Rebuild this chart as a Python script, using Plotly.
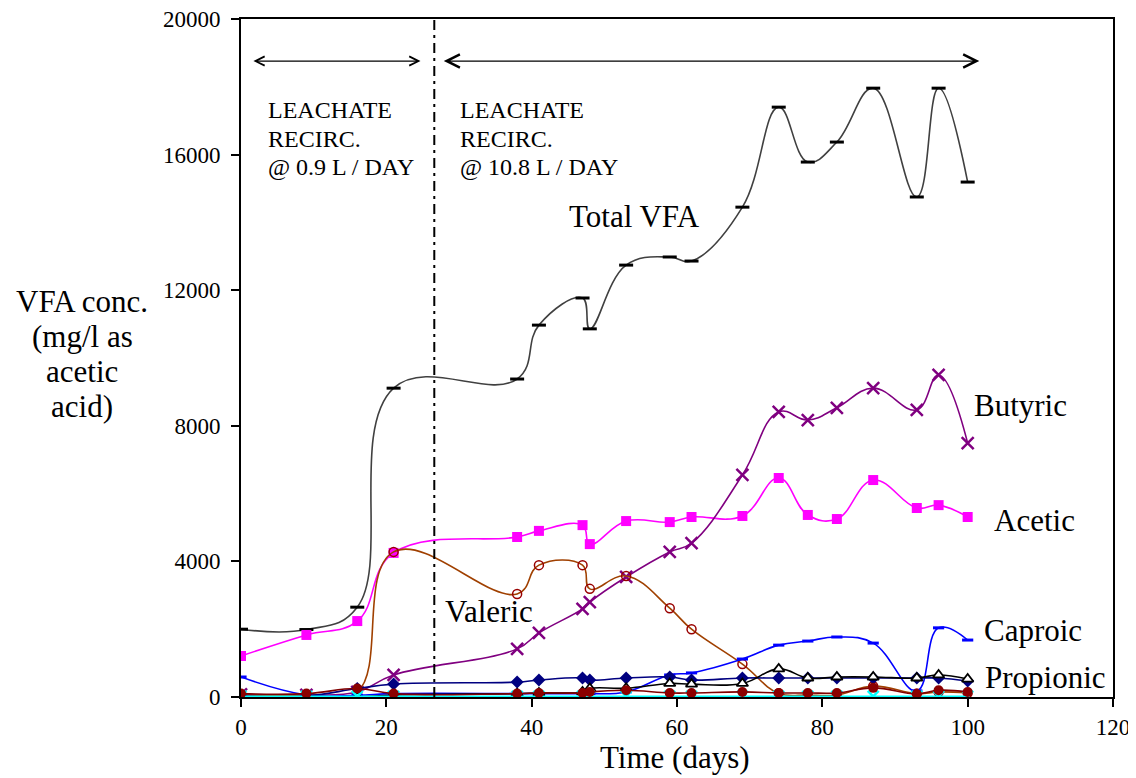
import plotly.graph_objects as go

# ---------------- data ----------------
DAYS = [0, 9, 16, 21, 38, 41, 47, 48, 53, 59, 62, 69, 74, 78, 82, 87, 93, 96, 100]

TOTAL_VFA = [2000, 1990, 2650, 9110, 9380, 10970, 11770, 10860, 12740, 12980,
             12860, 14450, 17400, 15780, 16370, 17960, 14750, 17960, 15190]
ACETIC = [1210, 1830, 2240, 4250, 4720, 4900, 5070, 4510, 5190, 5160,
          5310, 5340, 6460, 5370, 5250, 6400, 5575, 5660, 5310]
BUTYRIC = [80, 60, 150, 650, 1420, 1890, 2600, 2800, 3540, 4280,
           4540, 6550, 8410, 8170, 8530, 9110, 8470, 9500, 7490]
VALERIC = [60, 60, 150, 4280, 3040, 3890, 3890, 3190, 3570, 2620,
           2000, 970, 110, 60, 60, 320, 100, 150, 120]
CAPROIC = [590, 60, 50, 100, 100, 100, 100, 100, 150, 650,
           710, 1120, 1530, 1650, 1770, 1590, 180, 2040, 1680]
PROPIONIC = [0, 0, 0, 60, 100, 120, 150, 250, 260, 400,
             380, 400, 830, 560, 590, 590, 560, 650, 530]
NAVY_SERIES = [30, 30, 250, 380, 440, 500, 560, 500, 560, 590,
               500, 560, 560, 560, 560, 560, 560, 560, 470]
DARKRED_SERIES = [100, 100, 250, 100, 100, 120, 120, 150, 200, 120,
                  120, 150, 120, 120, 120, 270, 90, 200, 150]
CYAN_SERIES = [20] * 19

PHASE_CHANGE_DAY = 26.6

SERIES_LABELS = ["Total VFA", "Valeric", "Butyric", "Acetic", "Caproic", "Propionic"]
LABEL_POS = {  # (day, value) for in-plot series labels
    "Total VFA": (44.9, 14160),
    "Valeric": (27.8, 2510),
    "Butyric": (100.6, 8585),
    "Acetic": (103.3, 5220),
    "Caproic": (102.0, 1975),
    "Propionic": (102.1, 590),
}
PHASE_TEXT = [["LEACHATE", "RECIRC.", "@ 0.9 L / DAY"],
              ["LEACHATE", "RECIRC.", "@ 10.8 L / DAY"]]
PHASE_TEXT_X = [3.44, 29.9]
PHASE_TEXT_Y = [17317, 16460, 15635]
ARROWS = [(1.5, 24.7), (27.7, 101.6)]
ARROW_Y = 18760
Y_TITLE_LINES = ["VFA conc.", "(mg/l as", "acetic", "acid)"]
X_TITLE = "Time (days)"
Y_TICKS = [0, 4000, 8000, 12000, 16000, 20000]
X_TICKS = [0, 20, 40, 60, 80, 100, 120]

FONT = "Liberation Serif"

fig = go.Figure()


def add(y, line_color, line_width, symbol, msize, mcolor, mline_color=None, mline_width=0):
    fig.add_trace(go.Scatter(
        x=DAYS, y=y, mode="lines+markers",
        line=dict(color=line_color, width=line_width, shape="spline", smoothing=1.2),
        marker=dict(symbol=symbol, size=msize, color=mcolor,
                    line=dict(color=mline_color if mline_color else mcolor, width=mline_width)),
        showlegend=False, hoverinfo="skip"))


add(TOTAL_VFA, "#404040", 1.6, "line-ew", 10, "black", "black", 3)
add(ACETIC, "#FF00FF", 1.6, "square", 10, "#FF00FF")
add(BUTYRIC, "#800080", 1.6, "x-thin", 12, "#800080", "#800080", 2.5)
add(VALERIC, "#A04000", 1.6, "circle-open", 9, "#990000", "#990000", 1.5)
add(CAPROIC, "#0000FF", 1.6, "line-ew", 8, "#0000FF", "#0000FF", 3)
add(NAVY_SERIES, "#000080", 1.6, "diamond", 10, "#000080")
add(PROPIONIC, "#000000", 1.6, "triangle-up", 10, "white", "black", 1.8)
add(CYAN_SERIES, "#00FFFF", 1.6, "x-thin", 11, "#00FFFF", "#00FFFF", 2.5)
add(DARKRED_SERIES, "#800000", 1.6, "circle", 10, "#8B0000")

# phase change line
fig.add_shape(type="line", x0=PHASE_CHANGE_DAY, x1=PHASE_CHANGE_DAY, y0=0, y1=20000,
              xref="x", yref="y", line=dict(color="black", width=2, dash="10px,5px,3px,5px"))

# arrows
for (a, b), size in zip(ARROWS, [1.4, 2.0]):
    fig.add_annotation(x=b, y=ARROW_Y, ax=a, ay=ARROW_Y, xref="x", yref="y",
                       axref="x", ayref="y", text="", showarrow=True,
                       arrowside="end+start", arrowhead=5, startarrowhead=5,
                       arrowsize=size, startarrowsize=size, arrowwidth=1.3,
                       arrowcolor="black", standoff=0, startstandoff=0)

# phase text
for lines, px in zip(PHASE_TEXT, PHASE_TEXT_X):
    for line, py in zip(lines, PHASE_TEXT_Y):
        fig.add_annotation(x=px, y=py, xref="x", yref="y", text=line, showarrow=False,
                           xanchor="left", yanchor="middle", align="left",
                           font=dict(family=FONT, size=24, color="black"))

# series labels
for lab in SERIES_LABELS:
    px, py = LABEL_POS[lab]
    fig.add_annotation(x=px, y=py, xref="x", yref="y", text=lab, showarrow=False,
                       xanchor="left", yanchor="middle",
                       font=dict(family=FONT, size=31, color="black"))

# y title lines
for line, py in zip(Y_TITLE_LINES, [0.5826, 0.5310, 0.4794, 0.4292]):
    fig.add_annotation(x=-0.1823, y=py, xref="paper", yref="paper", text=line,
                       showarrow=False, xanchor="center", yanchor="middle",
                       font=dict(family=FONT, size=31, color="black"))

# x title
fig.add_annotation(x=0.4977, y=-0.0885, xref="paper", yref="paper", text=X_TITLE,
                   showarrow=False, xanchor="center", yanchor="middle",
                   font=dict(family=FONT, size=31, color="black"))

# page body has an 8px margin, so the figure is drawn starting at (8, 8)
fig.update_layout(
    width=1136, height=778,
    margin=dict(l=233, r=31, t=11, b=89, autoexpand=False),
    plot_bgcolor="white", paper_bgcolor="white",
    font=dict(family=FONT, size=23, color="black"),
    xaxis=dict(range=[0, 120], tickvals=X_TICKS, tickformat="d", showgrid=False,
               zeroline=False, automargin=False, ticklabeloverflow="allow",
               showline=True, linecolor="black", linewidth=2, mirror=True,
               ticks="outside", ticklen=8, tickwidth=1.5, tickcolor="black",
               tickfont=dict(family=FONT, size=23, color="black")),
    yaxis=dict(range=[0, 20000], tickvals=Y_TICKS, tickformat="d", showgrid=False,
               zeroline=False, automargin=False, ticklabelstandoff=6,
               ticklabeloverflow="allow",
               showline=True, linecolor="black", linewidth=2, mirror=True,
               ticks="outside", ticklen=8, tickwidth=1.5, tickcolor="black",
               tickfont=dict(family=FONT, size=23, color="black")),
)

fig.write_html("out.html")
